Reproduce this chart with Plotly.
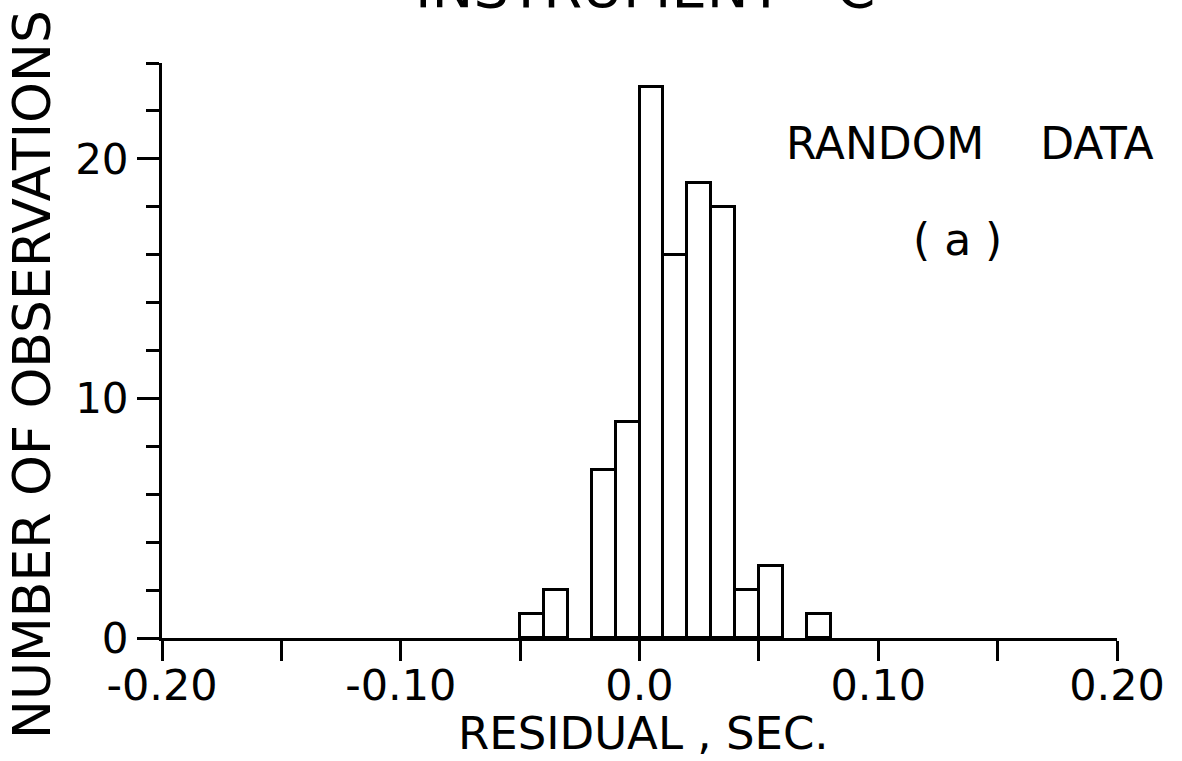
import plotly.graph_objects as go

# Histogram of residuals, bin width 0.01 s
bin_left = [-0.05, -0.04, -0.02, -0.01, 0.00, 0.01, 0.02, 0.03, 0.04, 0.05, 0.07]
counts = [1, 2, 7, 9, 23, 16, 19, 18, 2, 3, 1]
bin_width = 0.01

x_tickvals = [-0.20, -0.10, 0.0, 0.10, 0.20]
x_ticktext = ["-0.20", "-0.10", "0.0", "0.10", "0.20"]
x_minor = [-0.15, -0.05, 0.05, 0.15]
y_tickvals = [0, 10, 20]
y_ticktext = ["0", "10", "20"]
y_minor = [2, 4, 6, 8, 12, 14, 16, 18, 22, 24]

centers = [b + bin_width / 2 for b in bin_left]

FONT = "DejaVu Sans"
W, H = 1182, 761
L, R, T, B = 162, 65, 63, 123
pw, ph = W - L - R, H - T - B

def px(xp):
    return (xp - L) / pw

def py(yp):
    return (H - B - yp) / ph

fig = go.Figure()
fig.add_trace(go.Bar(
    x=centers, y=counts, width=bin_width,
    marker=dict(color="white", line=dict(color="black", width=3)),
    hoverinfo="skip",
))

fig.update_layout(
    width=W, height=H,
    margin=dict(l=L, r=R, t=T, b=B),
    paper_bgcolor="white", plot_bgcolor="white",
    showlegend=False,
    bargap=0,
    font=dict(family=FONT, color="black"),
    xaxis=dict(
        range=[-0.20, 0.20], showgrid=False, zeroline=False,
        showline=True, linecolor="black", linewidth=3,
        tickmode="array", tickvals=x_tickvals, ticktext=x_ticktext,
        ticks="outside", ticklen=20, tickwidth=3, tickcolor="black",
        tickfont=dict(size=43, family=FONT),
        ticklabelstandoff=-13,
        minor=dict(tickvals=x_minor, ticks="outside",
                   ticklen=20, tickwidth=3, tickcolor="black"),
    ),
    yaxis=dict(
        range=[0, 24], showgrid=False, zeroline=False,
        showline=True, linecolor="black", linewidth=3,
        tickmode="array", tickvals=y_tickvals, ticktext=y_ticktext,
        ticks="outside", ticklen=22, tickwidth=3, tickcolor="black",
        tickfont=dict(size=42, family=FONT),
        minor=dict(tickvals=y_minor, ticks="outside",
                   ticklen=13, tickwidth=3, tickcolor="black"),
    ),
)

ann = [
    dict(text="RANDOM&nbsp;&nbsp;&nbsp;&nbsp;DATA", x=px(970), y=py(143), size=44),
    dict(text="( a )", x=px(957), y=py(239), size=44),
    dict(text="RESIDUAL&nbsp;,&nbsp;SEC.", x=px(643), y=py(733), size=45),
]
for a in ann:
    fig.add_annotation(text=a["text"], x=a["x"], y=a["y"], xref="paper", yref="paper",
                       showarrow=False, xanchor="center", yanchor="middle",
                       font=dict(size=a["size"], family=FONT, color="black"))

# Heading, mostly above the top edge of the page
fig.add_annotation(text="INSTRUMENT&nbsp;&nbsp;&nbsp;C", x=px(645), y=py(22),
                   xref="paper", yref="paper", showarrow=False,
                   xanchor="center", yanchor="bottom",
                   font=dict(size=56, family=FONT, color="black"))

fig.add_annotation(text="NUMBER OF OBSERVATIONS", x=px(32), y=py(375),
                   xref="paper", yref="paper", showarrow=False, textangle=-90,
                   xanchor="center", yanchor="middle",
                   font=dict(size=52, family=FONT, color="black"))

fig.write_html("out.html")
